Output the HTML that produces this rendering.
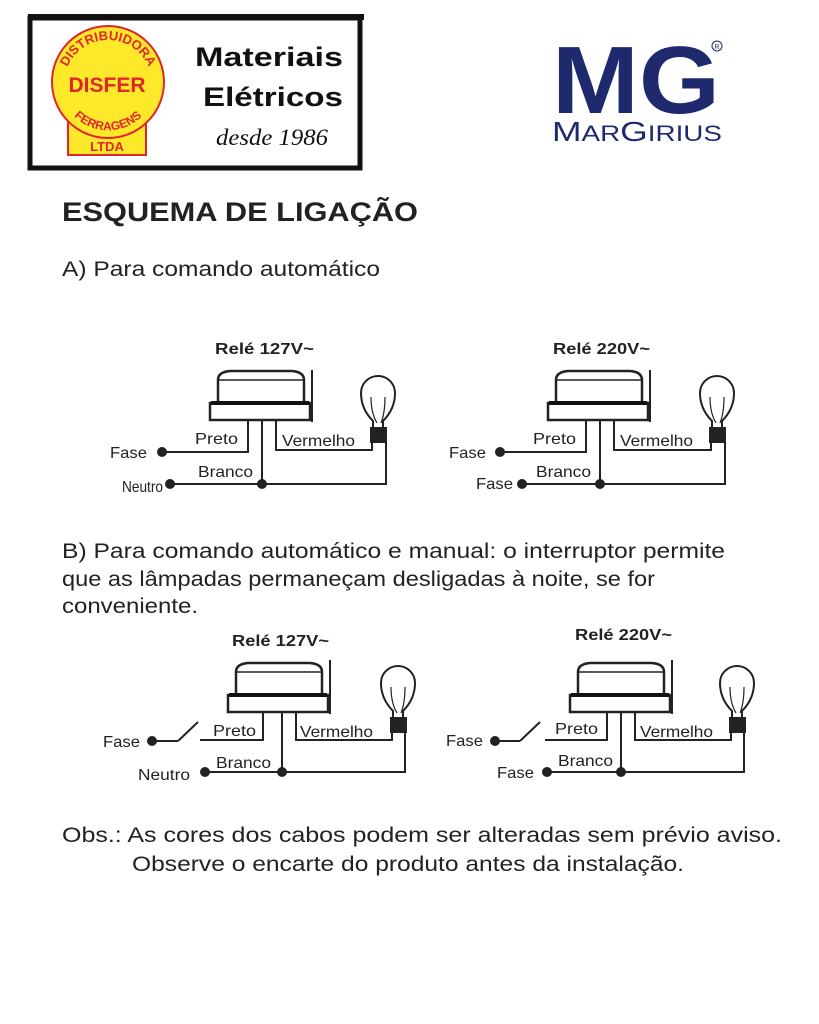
<!DOCTYPE html>
<html><head><meta charset="utf-8"><style>
html,body{margin:0;padding:0;background:#fff;}
svg{display:block}
text{font-family:"Liberation Sans",sans-serif;}
</style></head><body>
<svg width="819" height="1024" viewBox="0 0 819 1024" xmlns="http://www.w3.org/2000/svg">
<defs>
  <g id="relay">
    <path d="M8,-17 L8,-40 Q8,-48 20,-49 L82,-49 Q94,-48 94,-40 L94,-17 Z" fill="#fff" stroke="#222" stroke-width="2.5"/>
    <line x1="9" y1="-40" x2="93" y2="-40" stroke="#222" stroke-width="1.5"/>
    <rect x="0" y="-17" width="100" height="17" fill="#fff" stroke="#222" stroke-width="2.5"/>
    <line x1="1" y1="-17" x2="99" y2="-17" stroke="#111" stroke-width="4"/>
  </g>
  <g id="lamp">
    <path d="M4,0 L4,-6 Q-8,-18 -8,-34 A17,17 0 0 1 26,-34 Q26,-18 14,-6 L14,0" fill="#fff" stroke="#222" stroke-width="2"/>
    <path d="M2,-30 Q2,-14 8,-4 M12,-4 Q16,-14 16,-30" fill="none" stroke="#222" stroke-width="1.2"/>
    <rect x="1" y="0" width="17" height="16" fill="#222"/>
  </g>
</defs>

<rect x="30" y="18" width="330" height="150" fill="#fff" stroke="#111" stroke-width="5"/>
<rect x="28" y="14" width="336" height="6" fill="#111"/>
<rect x="68" y="110" width="78" height="45" fill="#fde92a" stroke="#e0262b" stroke-width="2"/>
<circle cx="108" cy="82" r="56" fill="#fde92a" stroke="#e0262b" stroke-width="2"/>
<path id="arcT" d="M64,84 A44,44 0 0 1 152,84" fill="none"/>
<text font-size="13" font-weight="bold" fill="#e0262b"><textPath href="#arcT" startOffset="50%" text-anchor="middle">DISTRIBUIDORA</textPath></text>
<text x="107" y="92" font-size="21" font-weight="bold" fill="#e0262b" text-anchor="middle">DISFER</text>
<path id="arcB" d="M62,96 A48,48 0 0 0 154,96" fill="none"/>
<text font-size="12" font-weight="bold" fill="#e0262b"><textPath href="#arcB" startOffset="50%" text-anchor="middle">FERRAGENS</textPath></text>
<text x="107" y="151" font-size="13" font-weight="bold" fill="#e0262b" text-anchor="middle">LTDA</text>
<text x="195" y="66" font-size="27" font-weight="bold" fill="#111" textLength="148" lengthAdjust="spacingAndGlyphs">Materiais</text>
<text x="203" y="106" font-size="27" font-weight="bold" fill="#111" textLength="140" lengthAdjust="spacingAndGlyphs">Elétricos</text>
<text x="216" y="145" font-size="23" font-style="italic" fill="#111" style="font-family:'Liberation Serif',serif" textLength="112" lengthAdjust="spacingAndGlyphs">desde 1986</text>

<text x="552" y="113" font-size="96" font-weight="bold" fill="#1f2a6e" textLength="168" lengthAdjust="spacingAndGlyphs">MG</text>
<circle cx="717" cy="46" r="5" fill="none" stroke="#1f2a6e" stroke-width="1"/>
<text x="717" y="49" font-size="7" fill="#1f2a6e" text-anchor="middle">R</text>
<text x="552" y="141" font-size="28" fill="#1f2a6e" textLength="170" lengthAdjust="spacingAndGlyphs">M<tspan font-size="22">AR</tspan>G<tspan font-size="22">IRIUS</tspan></text>

<text x="62" y="221" font-size="27" font-weight="bold" fill="#222" textLength="356" lengthAdjust="spacingAndGlyphs">ESQUEMA DE LIGAÇÃO</text>
<text x="62" y="276" font-size="21" fill="#222" textLength="318" lengthAdjust="spacingAndGlyphs">A) Para comando automático</text>

<g stroke="#222" stroke-width="2" fill="none">
<use href="#relay" x="210" y="420"/>
<line x1="312" y1="370" x2="312" y2="422"/>
<polyline points="248,420 248,452 162,452"/>
<line x1="262" y1="420" x2="262" y2="484"/>
<polyline points="276,420 276,450 372,450 372,443"/>
<polyline points="386,443 386,484 170,484"/>
<use href="#relay" x="548" y="420"/>
<line x1="650" y1="370" x2="650" y2="422"/>
<polyline points="586,420 586,452 500,452"/>
<line x1="600" y1="420" x2="600" y2="484"/>
<polyline points="614,420 614,450 711,450 711,443"/>
<polyline points="725,443 725,484 522,484"/>
<use href="#relay" x="228" y="712"/>
<line x1="330" y1="660" x2="330" y2="714"/>
<polyline points="263,712 263,740 200,740"/>
<line x1="152" y1="741" x2="178" y2="741"/>
<line x1="178" y1="741" x2="198" y2="722"/>
<line x1="282" y1="712" x2="282" y2="772"/>
<polyline points="296,712 296,740 392,740 392,733"/>
<polyline points="405,733 405,772 205,772"/>
<use href="#relay" x="570" y="712"/>
<line x1="672" y1="660" x2="672" y2="714"/>
<polyline points="607,712 607,740 545,740"/>
<line x1="495" y1="741" x2="520" y2="741"/>
<line x1="520" y1="741" x2="540" y2="722"/>
<line x1="621" y1="712" x2="621" y2="772"/>
<polyline points="635,712 635,740 731,740 731,733"/>
<polyline points="744,733 744,772 547,772"/>
</g>
<use href="#lamp" x="369" y="427"/>
<use href="#lamp" x="708" y="427"/>
<use href="#lamp" x="389" y="717"/>
<use href="#lamp" x="728" y="717"/>
<g fill="#222">
<circle cx="162" cy="452" r="5"/><circle cx="170" cy="484" r="5"/><circle cx="262" cy="484" r="5"/>
<circle cx="500" cy="452" r="5"/><circle cx="522" cy="484" r="5"/><circle cx="600" cy="484" r="5"/>
<circle cx="152" cy="741" r="5"/><circle cx="205" cy="772" r="5"/><circle cx="282" cy="772" r="5"/>
<circle cx="495" cy="741" r="5"/><circle cx="547" cy="772" r="5"/><circle cx="621" cy="772" r="5"/>
</g>

<g font-size="16" fill="#222">
<text x="215" y="354" font-weight="bold" textLength="99" lengthAdjust="spacingAndGlyphs">Relé 127V~</text>
<text x="195" y="444" textLength="43" lengthAdjust="spacingAndGlyphs">Preto</text><text x="282" y="446" textLength="73" lengthAdjust="spacingAndGlyphs">Vermelho</text>
<text x="198" y="477" textLength="55" lengthAdjust="spacingAndGlyphs">Branco</text>
<text x="110" y="458" textLength="37" lengthAdjust="spacingAndGlyphs">Fase</text><text x="122" y="492" textLength="41" lengthAdjust="spacingAndGlyphs">Neutro</text>

<text x="553" y="354" font-weight="bold" textLength="97" lengthAdjust="spacingAndGlyphs">Relé 220V~</text>
<text x="533" y="444" textLength="43" lengthAdjust="spacingAndGlyphs">Preto</text><text x="620" y="446" textLength="73" lengthAdjust="spacingAndGlyphs">Vermelho</text>
<text x="536" y="477" textLength="55" lengthAdjust="spacingAndGlyphs">Branco</text>
<text x="449" y="458" textLength="37" lengthAdjust="spacingAndGlyphs">Fase</text><text x="476" y="489" textLength="37" lengthAdjust="spacingAndGlyphs">Fase</text>

<text x="232" y="646" font-weight="bold" textLength="97" lengthAdjust="spacingAndGlyphs">Relé 127V~</text>
<text x="213" y="736" textLength="43" lengthAdjust="spacingAndGlyphs">Preto</text><text x="300" y="737" textLength="73" lengthAdjust="spacingAndGlyphs">Vermelho</text>
<text x="216" y="768" textLength="55" lengthAdjust="spacingAndGlyphs">Branco</text>
<text x="103" y="747" textLength="37" lengthAdjust="spacingAndGlyphs">Fase</text><text x="138" y="780" textLength="52" lengthAdjust="spacingAndGlyphs">Neutro</text>

<text x="575" y="640" font-weight="bold" textLength="97" lengthAdjust="spacingAndGlyphs">Relé 220V~</text>
<text x="555" y="734" textLength="43" lengthAdjust="spacingAndGlyphs">Preto</text><text x="640" y="737" textLength="73" lengthAdjust="spacingAndGlyphs">Vermelho</text>
<text x="558" y="766" textLength="55" lengthAdjust="spacingAndGlyphs">Branco</text>
<text x="446" y="746" textLength="37" lengthAdjust="spacingAndGlyphs">Fase</text><text x="497" y="778" textLength="37" lengthAdjust="spacingAndGlyphs">Fase</text>
</g>

<g font-size="21" fill="#222">
<text x="62" y="558" textLength="663" lengthAdjust="spacingAndGlyphs">B) Para comando automático e manual: o interruptor permite</text>
<text x="62" y="586" textLength="593" lengthAdjust="spacingAndGlyphs">que as lâmpadas permaneçam desligadas à noite, se for</text>
<text x="62" y="613" textLength="136" lengthAdjust="spacingAndGlyphs">conveniente.</text>
<text x="62" y="842" textLength="720" lengthAdjust="spacingAndGlyphs">Obs.: As cores dos cabos podem ser alteradas sem prévio aviso.</text>
<text x="132" y="871" textLength="552" lengthAdjust="spacingAndGlyphs">Observe o encarte do produto antes da instalação.</text>
</g>
</svg>
</body></html>
